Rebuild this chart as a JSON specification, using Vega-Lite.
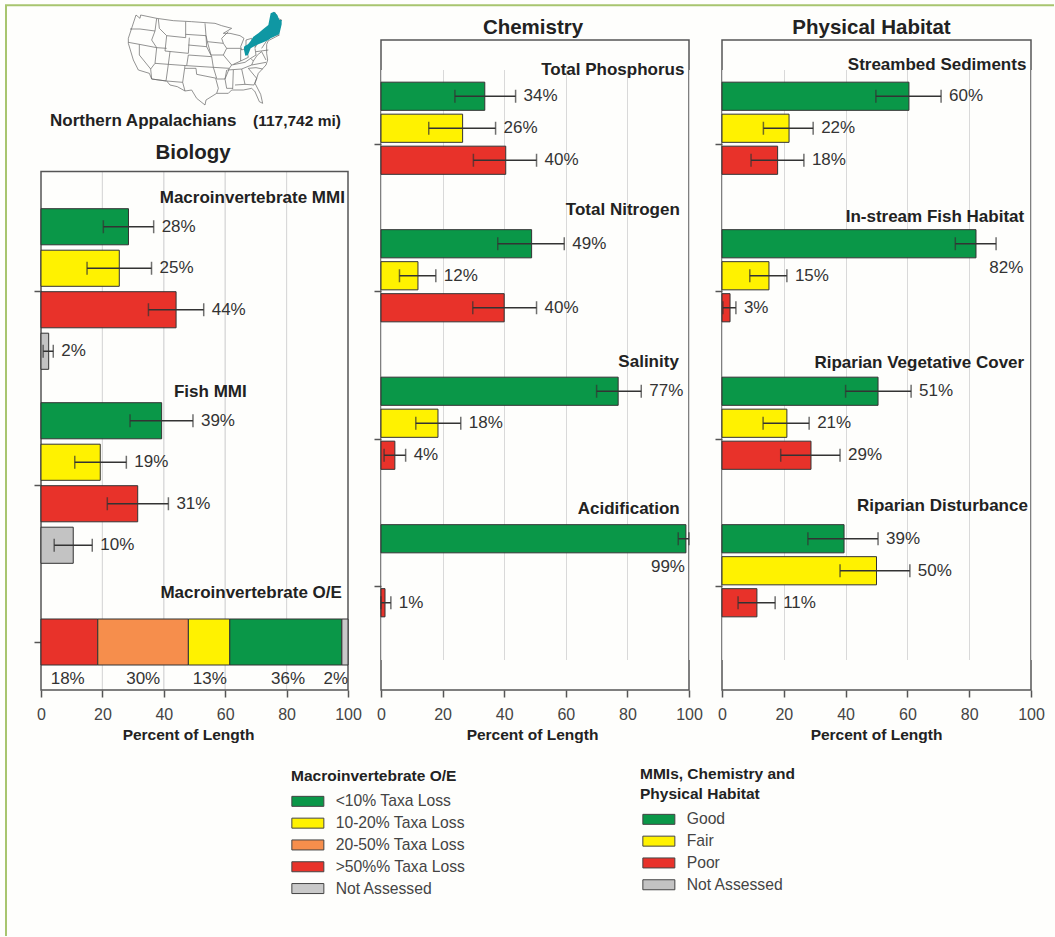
{"$schema":"https://vega.github.io/schema/vega-lite/v6.json","background":"#fefefc","padding":{"left":2,"top":1,"right":0,"bottom":0},"bounds":"flush","spacing":33,"resolve":{"scale":{"color":"independent","yOffset":"independent"}},
"config":{"font":"Liberation Sans","view":{"stroke":"#555555","strokeWidth":1.5},"axis":{"labelFontSize":16,"labelFlush":false,"labelColor":"#444444","labelPadding":9,"tickColor":"#555555","tickSize":7,"tickWidth":1.5,"domain":false,"titleFontSize":15.5,"titleFontWeight":"bold","titleColor":"#222222","titlePadding":5,"gridColor":"#d9d9d9"},"title":{"fontSize":20.5,"fontWeight":"bold","color":"#222222"}},
"datasets":{
"bars":[
{"panel":"bio","indicator":"Macroinvertebrate MMI","cond":"Good","pct":28.5,"lo":20.3,"hi":36.7,"label":"28%"},
{"panel":"bio","indicator":"Macroinvertebrate MMI","cond":"Fair","pct":25.5,"lo":15,"hi":36,"label":"25%"},
{"panel":"bio","indicator":"Macroinvertebrate MMI","cond":"Poor","pct":44,"lo":35,"hi":53,"label":"44%"},
{"panel":"bio","indicator":"Macroinvertebrate MMI","cond":"Not Assessed","pct":2.5,"lo":0.7,"hi":4,"label":"2%"},
{"panel":"bio","indicator":"Fish MMI","cond":"Good","pct":39.3,"lo":29,"hi":49.5,"label":"39%"},
{"panel":"bio","indicator":"Fish MMI","cond":"Fair","pct":19.3,"lo":11,"hi":27.8,"label":"19%"},
{"panel":"bio","indicator":"Fish MMI","cond":"Poor","pct":31.5,"lo":21.6,"hi":41.5,"label":"31%"},
{"panel":"bio","indicator":"Fish MMI","cond":"Not Assessed","pct":10.5,"lo":4.3,"hi":16.7,"label":"10%"},
{"panel":"chem","indicator":"Total Phosphorus","cond":"Good","pct":33.7,"lo":24,"hi":43.7,"label":"34%"},
{"panel":"chem","indicator":"Total Phosphorus","cond":"Fair","pct":26.5,"lo":15.5,"hi":37.2,"label":"26%"},
{"panel":"chem","indicator":"Total Phosphorus","cond":"Poor","pct":40.5,"lo":30,"hi":50.5,"label":"40%"},
{"panel":"chem","indicator":"Total Nitrogen","cond":"Good","pct":48.9,"lo":37.9,"hi":59.5,"label":"49%"},
{"panel":"chem","indicator":"Total Nitrogen","cond":"Fair","pct":12,"lo":6,"hi":17.8,"label":"12%"},
{"panel":"chem","indicator":"Total Nitrogen","cond":"Poor","pct":40,"lo":29.8,"hi":50.5,"label":"40%"},
{"panel":"chem","indicator":"Salinity","cond":"Good","pct":77,"lo":70,"hi":84.5,"label":"77%"},
{"panel":"chem","indicator":"Salinity","cond":"Fair","pct":18.5,"lo":11.3,"hi":25.9,"label":"18%"},
{"panel":"chem","indicator":"Salinity","cond":"Poor","pct":4.5,"lo":1,"hi":8,"label":"4%"},
{"panel":"chem","indicator":"Acidification","cond":"Good","pct":99,"lo":96.5,"hi":100,"label":"99%","labelAt":98.7},
{"panel":"chem","indicator":"Acidification","cond":"Poor","pct":1.3,"lo":0,"hi":3.2,"label":"1%"},
{"panel":"phys","indicator":"Streambed Sediments","cond":"Good","pct":60.5,"lo":49.8,"hi":70.9,"label":"60%"},
{"panel":"phys","indicator":"Streambed Sediments","cond":"Fair","pct":21.7,"lo":13.4,"hi":29.5,"label":"22%"},
{"panel":"phys","indicator":"Streambed Sediments","cond":"Poor","pct":18,"lo":9.4,"hi":26.5,"label":"18%"},
{"panel":"phys","indicator":"In-stream Fish Habitat","cond":"Good","pct":82.2,"lo":75.5,"hi":88.7,"label":"82%","labelAt":97.5},
{"panel":"phys","indicator":"In-stream Fish Habitat","cond":"Fair","pct":15.2,"lo":9,"hi":21,"label":"15%"},
{"panel":"phys","indicator":"In-stream Fish Habitat","cond":"Poor","pct":2.6,"lo":0.3,"hi":4.5,"label":"3%"},
{"panel":"phys","indicator":"Riparian Vegetative Cover","cond":"Good","pct":50.5,"lo":40,"hi":61.2,"label":"51%"},
{"panel":"phys","indicator":"Riparian Vegetative Cover","cond":"Fair","pct":21,"lo":13.3,"hi":28.2,"label":"21%"},
{"panel":"phys","indicator":"Riparian Vegetative Cover","cond":"Poor","pct":28.8,"lo":19,"hi":38.2,"label":"29%"},
{"panel":"phys","indicator":"Riparian Disturbance","cond":"Good","pct":39.5,"lo":27.8,"hi":50.5,"label":"39%"},
{"panel":"phys","indicator":"Riparian Disturbance","cond":"Fair","pct":50,"lo":38.2,"hi":60.8,"label":"50%"},
{"panel":"phys","indicator":"Riparian Disturbance","cond":"Poor","pct":11.3,"lo":5.2,"hi":17.2,"label":"11%"}
],
"titles":[
{"panel":"bio","indicator":"Macroinvertebrate MMI","at":99},
{"panel":"bio","indicator":"Fish MMI","at":67},
{"panel":"chem","indicator":"Total Phosphorus","at":98.5},
{"panel":"chem","indicator":"Total Nitrogen","at":97},
{"panel":"chem","indicator":"Salinity","at":96.7},
{"panel":"chem","indicator":"Acidification","at":97},
{"panel":"phys","indicator":"Streambed Sediments","at":98.5},
{"panel":"phys","indicator":"In-stream Fish Habitat","at":97.8},
{"panel":"phys","indicator":"Riparian Vegetative Cover","at":97.8},
{"panel":"phys","indicator":"Riparian Disturbance","at":99}
],
"oe":[
{"indicator":"Macroinvertebrate O/E","cls":">50%% Taxa Loss","seq":1,"pct":18.5,"mid":8.7,"label":"18%"},
{"indicator":"Macroinvertebrate O/E","cls":"20-50% Taxa Loss","seq":2,"pct":29.5,"mid":33.3,"label":"30%"},
{"indicator":"Macroinvertebrate O/E","cls":"10-20% Taxa Loss","seq":3,"pct":13.5,"mid":55,"label":"13%"},
{"indicator":"Macroinvertebrate O/E","cls":"<10% Taxa Loss","seq":4,"pct":36.5,"mid":80.5,"label":"36%"},
{"indicator":"Macroinvertebrate O/E","cls":"Not Assessed","seq":5,"pct":2,"mid":96,"label":"2%"}
],
"grid":[{"band":"panel","from":20},{"band":"panel","from":40},{"band":"panel","from":60},{"band":"panel","from":80}],
"frame":[{"band":"panel","from":0,"to":100}],
"mapLines":[
{"s":"frame","i":0,"x":-342,"y":2793},{"s":"frame","i":1,"x":-342,"y":1},{"s":"frame","i":2,"x":2802,"y":1}
],
"states":[
{"s":"o","i":0,"x":48,"y":30},{"s":"o","i":1,"x":60,"y":40},{"s":"o","i":2,"x":62,"y":30},{"s":"o","i":3,"x":110,"y":40},{"s":"o","i":4,"x":160,"y":47},{"s":"o","i":5,"x":215,"y":50},{"s":"o","i":6,"x":285,"y":55},{"s":"o","i":7,"x":305,"y":62},{"s":"o","i":8,"x":335,"y":70},{"s":"o","i":9,"x":310,"y":85},{"s":"o","i":10,"x":330,"y":85},{"s":"o","i":11,"x":360,"y":92},{"s":"o","i":12,"x":372,"y":100},{"s":"o","i":13,"x":362,"y":125},{"s":"o","i":14,"x":365,"y":135},{"s":"o","i":15,"x":378,"y":130},{"s":"o","i":16,"x":378,"y":105},{"s":"o","i":17,"x":395,"y":100},{"s":"o","i":18,"x":400,"y":118},{"s":"o","i":19,"x":408,"y":108},{"s":"o","i":20,"x":405,"y":128},{"s":"o","i":21,"x":425,"y":95},{"s":"o","i":22,"x":437,"y":82},{"s":"o","i":23,"x":452,"y":72},{"s":"o","i":24,"x":455,"y":30},{"s":"o","i":25,"x":465,"y":22},{"s":"o","i":26,"x":472,"y":40},{"s":"o","i":27,"x":485,"y":45},{"s":"o","i":28,"x":470,"y":65},{"s":"o","i":29,"x":462,"y":80},{"s":"o","i":30,"x":463,"y":90},{"s":"o","i":31,"x":478,"y":90},{"s":"o","i":32,"x":445,"y":107},{"s":"o","i":33,"x":440,"y":118},{"s":"o","i":34,"x":440,"y":145},{"s":"o","i":35,"x":443,"y":165},{"s":"o","i":36,"x":438,"y":180},{"s":"o","i":37,"x":415,"y":205},{"s":"o","i":38,"x":405,"y":235},{"s":"o","i":39,"x":422,"y":268},{"s":"o","i":40,"x":428,"y":295},{"s":"o","i":41,"x":418,"y":290},{"s":"o","i":42,"x":405,"y":260},{"s":"o","i":43,"x":395,"y":250},{"s":"o","i":44,"x":370,"y":255},{"s":"o","i":45,"x":335,"y":255},{"s":"o","i":46,"x":325,"y":265},{"s":"o","i":47,"x":290,"y":265},{"s":"o","i":48,"x":258,"y":285},{"s":"o","i":49,"x":255,"y":300},{"s":"o","i":50,"x":230,"y":280},{"s":"o","i":51,"x":215,"y":255},{"s":"o","i":52,"x":195,"y":258},{"s":"o","i":53,"x":172,"y":245},{"s":"o","i":54,"x":150,"y":240},{"s":"o","i":55,"x":140,"y":228},{"s":"o","i":56,"x":95,"y":222},{"s":"o","i":57,"x":88,"y":205},{"s":"o","i":58,"x":55,"y":195},{"s":"o","i":59,"x":40,"y":165},{"s":"o","i":60,"x":25,"y":115},{"s":"o","i":61,"x":25,"y":100},{"s":"o","i":62,"x":48,"y":30},
{"s":"wa","i":0,"x":30,"y":72},{"s":"wa","i":1,"x":60,"y":72},{"s":"wa","i":2,"x":105,"y":78},
{"s":"id","i":0,"x":110,"y":40},{"s":"id","i":1,"x":105,"y":78},{"s":"id","i":2,"x":95,"y":105},{"s":"id","i":3,"x":110,"y":128},{"s":"id","i":4,"x":140,"y":130},
{"s":"mt","i":0,"x":115,"y":42},{"s":"mt","i":1,"x":118,"y":70},{"s":"mt","i":2,"x":140,"y":92},{"s":"mt","i":3,"x":197,"y":98},{"s":"mt","i":4,"x":197,"y":50},
{"s":"wy","i":0,"x":140,"y":92},{"s":"wy","i":1,"x":135,"y":138},{"s":"wy","i":2,"x":205,"y":145},{"s":"wy","i":3,"x":208,"y":98},
{"s":"nd","i":0,"x":197,"y":88},{"s":"nd","i":1,"x":258,"y":92},{"s":"nd","i":2,"x":255,"y":55},
{"s":"sd","i":0,"x":205,"y":120},{"s":"sd","i":1,"x":260,"y":125},{"s":"sd","i":2,"x":258,"y":92},
{"s":"ne","i":0,"x":205,"y":150},{"s":"ne","i":1,"x":275,"y":155},{"s":"ne","i":2,"x":260,"y":125},
{"s":"ks","i":0,"x":205,"y":150},{"s":"ks","i":1,"x":200,"y":182},{"s":"ks","i":2,"x":280,"y":187},{"s":"ks","i":3,"x":275,"y":155},
{"s":"co","i":0,"x":150,"y":140},{"s":"co","i":1,"x":145,"y":178},{"s":"co","i":2,"x":200,"y":182},
{"s":"ut","i":0,"x":110,"y":128},{"s":"ut","i":1,"x":105,"y":175},{"s":"ut","i":2,"x":145,"y":178},
{"s":"or","i":0,"x":25,"y":112},{"s":"or","i":1,"x":58,"y":118},{"s":"or","i":2,"x":110,"y":128},
{"s":"nv","i":0,"x":58,"y":118},{"s":"nv","i":1,"x":58,"y":150},{"s":"nv","i":2,"x":92,"y":192},{"s":"nv","i":3,"x":105,"y":175},
{"s":"az","i":0,"x":92,"y":192},{"s":"az","i":1,"x":95,"y":222},{"s":"az","i":2,"x":138,"y":228},{"s":"az","i":3,"x":145,"y":178},
{"s":"nm","i":0,"x":140,"y":228},{"s":"nm","i":1,"x":188,"y":232},{"s":"nm","i":2,"x":195,"y":182},
{"s":"ok","i":0,"x":195,"y":190},{"s":"ok","i":1,"x":228,"y":190},{"s":"ok","i":2,"x":230,"y":208},{"s":"ok","i":3,"x":290,"y":220},{"s":"ok","i":4,"x":280,"y":187},
{"s":"tx","i":0,"x":188,"y":232},{"s":"tx","i":1,"x":195,"y":258},
{"s":"tx2","i":0,"x":287,"y":220},{"s":"tx2","i":1,"x":295,"y":250},{"s":"tx2","i":2,"x":290,"y":265},
{"s":"mn","i":0,"x":258,"y":92},{"s":"mn","i":1,"x":262,"y":110},{"s":"mn","i":2,"x":310,"y":115},{"s":"mn","i":3,"x":305,"y":100},{"s":"mn","i":4,"x":325,"y":80},
{"s":"ia","i":0,"x":262,"y":110},{"s":"ia","i":1,"x":273,"y":150},{"s":"ia","i":2,"x":310,"y":150},{"s":"ia","i":3,"x":320,"y":130},{"s":"ia","i":4,"x":310,"y":115},
{"s":"mo","i":0,"x":310,"y":150},{"s":"mo","i":1,"x":335,"y":180},{"s":"mo","i":2,"x":328,"y":190},{"s":"mo","i":3,"x":280,"y":187},
{"s":"ar","i":0,"x":328,"y":190},{"s":"ar","i":1,"x":315,"y":222},{"s":"ar","i":2,"x":290,"y":222},
{"s":"la","i":0,"x":315,"y":222},{"s":"la","i":1,"x":320,"y":250},{"s":"la","i":2,"x":338,"y":250},
{"s":"ms","i":0,"x":320,"y":195},{"s":"ms","i":1,"x":315,"y":222},
{"s":"ms2","i":0,"x":340,"y":195},{"s":"ms2","i":1,"x":338,"y":252},
{"s":"al","i":0,"x":365,"y":192},{"s":"al","i":1,"x":375,"y":238},{"s":"al","i":2,"x":345,"y":240},
{"s":"ga","i":0,"x":385,"y":190},{"s":"ga","i":1,"x":410,"y":220},{"s":"ga","i":2,"x":402,"y":240},{"s":"ga","i":3,"x":375,"y":238},
{"s":"tn","i":0,"x":322,"y":195},{"s":"tn","i":1,"x":365,"y":192},{"s":"tn","i":2,"x":395,"y":180},
{"s":"ky","i":0,"x":335,"y":180},{"s":"ky","i":1,"x":375,"y":172},{"s":"ky","i":2,"x":392,"y":160},{"s":"ky","i":3,"x":400,"y":168},{"s":"ky","i":4,"x":395,"y":180},{"s":"ky","i":5,"x":438,"y":172},
{"s":"il","i":0,"x":320,"y":130},{"s":"il","i":1,"x":362,"y":130},{"s":"il","i":2,"x":362,"y":168},{"s":"il","i":3,"x":340,"y":178},
{"s":"in","i":0,"x":380,"y":135},{"s":"in","i":1,"x":385,"y":157},{"s":"in","i":2,"x":362,"y":168},
{"s":"oh","i":0,"x":405,"y":130},{"s":"oh","i":1,"x":408,"y":150},{"s":"oh","i":2,"x":392,"y":160},
{"s":"wv","i":0,"x":408,"y":140},{"s":"wv","i":1,"x":445,"y":135},
{"s":"va","i":0,"x":400,"y":168},{"s":"va","i":1,"x":412,"y":150},{"s":"va","i":2,"x":425,"y":140},{"s":"va","i":3,"x":438,"y":165},
{"s":"nc","i":0,"x":385,"y":190},{"s":"nc","i":1,"x":408,"y":188},{"s":"nc","i":2,"x":428,"y":192},
{"s":"ny","i":0,"x":425,"y":130},{"s":"ny","i":1,"x":445,"y":100},{"s":"ny","i":2,"x":452,"y":72}
],
"teal":[
{"x":372,"y":125,"y2":135},{"x":376,"y":122,"y2":152},{"x":384,"y":118,"y2":150},{"x":392,"y":108,"y2":130},{"x":400,"y":95,"y2":125},{"x":415,"y":85,"y2":118},{"x":430,"y":72,"y2":112},{"x":445,"y":60,"y2":105},{"x":452,"y":25,"y2":100},{"x":462,"y":20,"y2":95},{"x":472,"y":30,"y2":90},{"x":478,"y":45,"y2":88},{"x":485,"y":45,"y2":58}
]
},
"hconcat":[
{"width":307,"height":650,"view":{"stroke":null},
"layer":[
{"data":{"name":"grid"},"mark":{"type":"rect","fill":"transparent","stroke":"#d9d9d9","strokeWidth":1},
"encoding":{"x":{"field":"from","type":"quantitative","axis":null,"scale":{"domain":[0,100]}},"x2":{"field":"from"},"y":{"field":"band","type":"nominal","axis":null,"scale":{"domain":["panel"],"range":[131.5,650],"paddingInner":0,"paddingOuter":0}}}},
{"data":{"name":"frame"},"mark":{"type":"rect","fill":"transparent","stroke":"#555555","strokeWidth":1.5},
"encoding":{"x":{"field":"from","type":"quantitative","scale":{"domain":[0,100]},"axis":{"values":[0,20,40,60,80,100],"title":"Percent of Length","grid":false,"titleX":147}},"x2":{"field":"to"},"y":{"field":"band","type":"nominal","axis":null,"scale":{"domain":["panel"],"range":[131.5,650],"paddingInner":0,"paddingOuter":0}}}},
{"layer":[
{"data":{"name":"states"},"mark":{"type":"line","color":"#666666","strokeWidth":0.7,"clip":false},"encoding":{"x":{"field":"x","type":"quantitative","axis":null,"scale":{"domain":[0,510],"range":[79,249],"nice":false,"zero":false}},"y":{"field":"y","type":"quantitative","axis":null,"scale":{"domain":[0,300],"range":[-35,65],"nice":false,"zero":false}},"detail":{"field":"s"},"order":{"field":"i"}}},
{"data":{"name":"teal"},"mark":{"type":"area","color":"#0f97a3","clip":false},"encoding":{"x":{"field":"x","type":"quantitative"},"y":{"field":"y","type":"quantitative"},"y2":{"field":"y2"}}},
{"data":{"name":"mapLines"},"mark":{"type":"line","color":"#a8c56f","strokeWidth":2,"clip":false},"encoding":{"x":{"field":"x","type":"quantitative"},"y":{"field":"y","type":"quantitative"},"detail":{"field":"s"},"order":{"field":"i"}}},
{"data":{"values":[{"x":-210,"y":348,"t":"Northern Appalachians"}]},"mark":{"type":"text","align":"left","baseline":"middle","fontWeight":"bold","fontSize":17,"color":"#222222"},"encoding":{"x":{"field":"x","type":"quantitative"},"y":{"field":"y","type":"quantitative"},"text":{"field":"t"}}},
{"data":{"values":[{"x":399,"y":348,"t":"(117,742 mi)"}]},"mark":{"type":"text","align":"left","baseline":"middle","fontWeight":"bold","fontSize":15.5,"color":"#222222"},"encoding":{"x":{"field":"x","type":"quantitative"},"y":{"field":"y","type":"quantitative"},"text":{"field":"t"}}},
{"data":{"values":[{"x":219,"y":444,"t":"Biology"}]},"mark":{"type":"text","align":"center","baseline":"middle","fontWeight":"bold","fontSize":20.5,"color":"#222222"},"encoding":{"x":{"field":"x","type":"quantitative"},"y":{"field":"y","type":"quantitative"},"text":{"field":"t"}}}
]},
{"data":{"name":"bars"},"transform":[{"filter":"datum.panel=='bio'"}],
"encoding":{"y":{"field":"indicator","type":"nominal","title":null,"scale":{"domain":["Macroinvertebrate MMI","Fish MMI"],"range":[154,542],"paddingInner":0,"paddingOuter":0},"axis":{"orient":"left","labels":false,"grid":false,"title":null}},"yOffset":{"field":"cond","type":"nominal","scale":{"domain":["Good","Fair","Poor","Not Assessed"],"range":[12,178],"paddingInner":0.13,"paddingOuter":0.065}}},
"layer":[
{"mark":{"type":"bar","stroke":"#333333","strokeWidth":1},"encoding":{"x":{"field":"pct","type":"quantitative","axis":null,"scale":{"domain":[0,100]}},"color":{"field":"cond","type":"nominal","scale":{"domain":["Good","Fair","Poor","Not Assessed"],"range":["#0a9748","#fff200","#e8322a","#c3c3c3"]},"legend":{"orient":"none","legendX":599,"legendY":727,"title":["MMIs, Chemistry and","Physical Habitat"],"titleFontSize":15.5,"titleFontWeight":"bold","titleColor":"#222222","titleLineHeight":20,"titlePadding":9,"labelFontSize":15.7,"labelColor":"#444444","labelOffset":31,"rowPadding":4.8,"symbolType":"M-1,-1L5.4,-1L5.4,1L-1,1Z","symbolSize":100,"symbolStrokeColor":"#444444","symbolStrokeWidth":1,"symbolOpacity":1}}}},
{"mark":{"type":"rule","color":"#333333","strokeWidth":1.5},"encoding":{"x":{"field":"lo","type":"quantitative"},"x2":{"field":"hi"}}},
{"mark":{"type":"tick","color":"#333333","thickness":1.5,"size":13,"orient":"vertical"},"encoding":{"x":{"field":"lo","type":"quantitative"}}},
{"mark":{"type":"tick","color":"#333333","thickness":1.5,"size":13,"orient":"vertical"},"encoding":{"x":{"field":"hi","type":"quantitative"}}},
{"mark":{"type":"text","align":"left","dx":8,"fontSize":17,"color":"#333333"},"encoding":{"x":{"field":"hi","type":"quantitative"},"text":{"field":"label"}}}
]},
{"data":{"name":"titles"},"transform":[{"filter":"datum.panel=='bio'"}],"mark":{"type":"text","align":"right","dy":-93,"fontWeight":"bold","fontSize":17,"color":"#222222"},
"encoding":{"x":{"field":"at","type":"quantitative","axis":null,"scale":{"domain":[0,100]}},"y":{"field":"indicator","type":"nominal","axis":null,"scale":{"domain":["Macroinvertebrate MMI","Fish MMI"],"range":[154,542],"paddingInner":0,"paddingOuter":0}},"text":{"field":"indicator"}}},
{"data":{"name":"oe"},
"encoding":{"y":{"field":"indicator","type":"nominal","scale":{"domain":["Macroinvertebrate O/E"],"range":[579,625],"paddingInner":0,"paddingOuter":0},"axis":{"orient":"left","labels":false,"grid":false,"title":null}}},
"layer":[
{"mark":{"type":"bar","stroke":"#333333","strokeWidth":1},"encoding":{"x":{"field":"pct","type":"quantitative","stack":"zero","axis":null,"scale":{"domain":[0,100]}},"order":{"field":"seq"},"color":{"field":"cls","type":"nominal","scale":{"domain":["<10% Taxa Loss","10-20% Taxa Loss","20-50% Taxa Loss",">50%% Taxa Loss","Not Assessed"],"range":["#0a9748","#fff200","#f68e4c","#e8322a","#c9c9c9"]},"legend":{"orient":"none","legendX":250,"legendY":729,"title":"Macroinvertebrate O/E","titleFontSize":15.5,"titleFontWeight":"bold","titleColor":"#222222","titlePadding":9,"labelFontSize":15.7,"labelColor":"#444444","labelOffset":29,"rowPadding":4.8,"symbolType":"M-1.4,-1L5,-1L5,1L-1.4,1Z","symbolSize":100,"symbolStrokeColor":"#444444","symbolStrokeWidth":1,"symbolOpacity":1}}}},
{"mark":{"type":"text","dy":37,"fontSize":17,"color":"#333333"},"encoding":{"x":{"field":"mid","type":"quantitative"},"text":{"field":"label"}}}
]},
{"data":{"values":[{"indicator":"Macroinvertebrate O/E","at":98}]},"mark":{"type":"text","align":"right","dy":-49,"fontWeight":"bold","fontSize":17,"color":"#222222"},
"encoding":{"x":{"field":"at","type":"quantitative","axis":null,"scale":{"domain":[0,100]}},"y":{"field":"indicator","type":"nominal","axis":null,"scale":{"domain":["Macroinvertebrate O/E"],"range":[579,625],"paddingInner":0,"paddingOuter":0}},"text":{"field":"indicator"}}}
],
"resolve":{"scale":{"x":"independent","y":"independent","color":"independent"},"axis":{"x":"independent","y":"independent"}}
},
{"width":308,"height":650,"title":{"text":"Chemistry","offset":2,"dx":-2},
"encoding":{"y":{"field":"indicator","type":"nominal","title":null,"scale":{"domain":["Total Phosphorus","Total Nitrogen","Salinity","Acidification"],"range":[30.5,620.5],"paddingInner":0,"paddingOuter":0},"axis":{"labels":false,"grid":false,"title":null}}},
"layer":[
{"data":{"name":"bars"},"transform":[{"filter":"datum.panel=='chem'"}],
"encoding":{"yOffset":{"field":"cond","type":"nominal","scale":{"domain":["Good","Fair","Poor"],"range":[9.75,105.75],"paddingInner":0.12,"paddingOuter":0.06}}},
"layer":[
{"mark":{"type":"bar","stroke":"#333333","strokeWidth":1},"encoding":{"x":{"field":"pct","type":"quantitative","scale":{"domain":[0,100]},"axis":{"values":[0,20,40,60,80,100],"title":"Percent of Length","grid":true,"titleX":151}},"color":{"field":"cond","type":"nominal","scale":{"domain":["Good","Fair","Poor","Not Assessed"],"range":["#0a9748","#fff200","#e8322a","#c3c3c3"]},"legend":null}}},
{"mark":{"type":"rule","color":"#333333","strokeWidth":1.5},"encoding":{"x":{"field":"lo","type":"quantitative"},"x2":{"field":"hi"}}},
{"mark":{"type":"tick","color":"#333333","thickness":1.5,"size":13,"orient":"vertical"},"encoding":{"x":{"field":"lo","type":"quantitative"}}},
{"mark":{"type":"tick","color":"#333333","thickness":1.5,"size":13,"orient":"vertical"},"encoding":{"x":{"field":"hi","type":"quantitative"}}},
{"transform":[{"filter":"!isValid(datum.labelAt)"}],"mark":{"type":"text","align":"left","dx":8,"fontSize":17,"color":"#333333"},"encoding":{"x":{"field":"hi","type":"quantitative"},"text":{"field":"label"}}},
{"transform":[{"filter":"isValid(datum.labelAt)"}],"mark":{"type":"text","align":"right","dy":28,"fontSize":17,"color":"#333333"},"encoding":{"x":{"field":"labelAt","type":"quantitative"},"text":{"field":"label"}}}
]},
{"data":{"name":"titles"},"transform":[{"filter":"datum.indicator=='Total Phosphorus'"}],"mark":{"type":"text","align":"right","dy":-74,"fontWeight":"bold","fontSize":17,"color":"#222222"},"encoding":{"x":{"field":"at","type":"quantitative"},"text":{"field":"indicator"}}},
{"data":{"name":"titles"},"transform":[{"filter":"datum.indicator=='Total Nitrogen'"}],"mark":{"type":"text","align":"right","dy":-82,"fontWeight":"bold","fontSize":17,"color":"#222222"},"encoding":{"x":{"field":"at","type":"quantitative"},"text":{"field":"indicator"}}},
{"data":{"name":"titles"},"transform":[{"filter":"datum.indicator=='Salinity'"}],"mark":{"type":"text","align":"right","dy":-77.5,"fontWeight":"bold","fontSize":17,"color":"#222222"},"encoding":{"x":{"field":"at","type":"quantitative"},"text":{"field":"indicator"}}},
{"data":{"name":"titles"},"transform":[{"filter":"datum.indicator=='Acidification'"}],"mark":{"type":"text","align":"right","dy":-78,"fontWeight":"bold","fontSize":17,"color":"#222222"},"encoding":{"x":{"field":"at","type":"quantitative"},"text":{"field":"indicator"}}}
]},
{"width":309,"height":650,"title":{"text":"Physical Habitat","offset":2,"dx":-5},
"encoding":{"y":{"field":"indicator","type":"nominal","title":null,"scale":{"domain":["Streambed Sediments","In-stream Fish Habitat","Riparian Vegetative Cover","Riparian Disturbance"],"range":[30.5,620.5],"paddingInner":0,"paddingOuter":0},"axis":{"labels":false,"grid":false,"title":null}}},
"layer":[
{"data":{"name":"bars"},"transform":[{"filter":"datum.panel=='phys'"}],
"encoding":{"yOffset":{"field":"cond","type":"nominal","scale":{"domain":["Good","Fair","Poor"],"range":[9.75,105.75],"paddingInner":0.12,"paddingOuter":0.06}}},
"layer":[
{"mark":{"type":"bar","stroke":"#333333","strokeWidth":1},"encoding":{"x":{"field":"pct","type":"quantitative","scale":{"domain":[0,100]},"axis":{"values":[0,20,40,60,80,100],"title":"Percent of Length","grid":true,"titleX":154}},"color":{"field":"cond","type":"nominal","scale":{"domain":["Good","Fair","Poor","Not Assessed"],"range":["#0a9748","#fff200","#e8322a","#c3c3c3"]},"legend":null}}},
{"mark":{"type":"rule","color":"#333333","strokeWidth":1.5},"encoding":{"x":{"field":"lo","type":"quantitative"},"x2":{"field":"hi"}}},
{"mark":{"type":"tick","color":"#333333","thickness":1.5,"size":13,"orient":"vertical"},"encoding":{"x":{"field":"lo","type":"quantitative"}}},
{"mark":{"type":"tick","color":"#333333","thickness":1.5,"size":13,"orient":"vertical"},"encoding":{"x":{"field":"hi","type":"quantitative"}}},
{"transform":[{"filter":"!isValid(datum.labelAt)"}],"mark":{"type":"text","align":"left","dx":8,"fontSize":17,"color":"#333333"},"encoding":{"x":{"field":"hi","type":"quantitative"},"text":{"field":"label"}}},
{"transform":[{"filter":"isValid(datum.labelAt)"}],"mark":{"type":"text","align":"right","dy":24,"fontSize":17,"color":"#333333"},"encoding":{"x":{"field":"labelAt","type":"quantitative"},"text":{"field":"label"}}}
]},
{"data":{"name":"titles"},"transform":[{"filter":"datum.indicator=='Streambed Sediments'"}],"mark":{"type":"text","align":"right","dy":-79,"fontWeight":"bold","fontSize":17,"color":"#222222"},"encoding":{"x":{"field":"at","type":"quantitative"},"text":{"field":"indicator"}}},
{"data":{"name":"titles"},"transform":[{"filter":"datum.indicator=='In-stream Fish Habitat'"}],"mark":{"type":"text","align":"right","dy":-75,"fontWeight":"bold","fontSize":17,"color":"#222222"},"encoding":{"x":{"field":"at","type":"quantitative"},"text":{"field":"indicator"}}},
{"data":{"name":"titles"},"transform":[{"filter":"datum.indicator=='Riparian Vegetative Cover'"}],"mark":{"type":"text","align":"right","dy":-76.5,"fontWeight":"bold","fontSize":17,"color":"#222222"},"encoding":{"x":{"field":"at","type":"quantitative"},"text":{"field":"indicator"}}},
{"data":{"name":"titles"},"transform":[{"filter":"datum.indicator=='Riparian Disturbance'"}],"mark":{"type":"text","align":"right","dy":-81,"fontWeight":"bold","fontSize":17,"color":"#222222"},"encoding":{"x":{"field":"at","type":"quantitative"},"text":{"field":"indicator"}}}
]}
]}
